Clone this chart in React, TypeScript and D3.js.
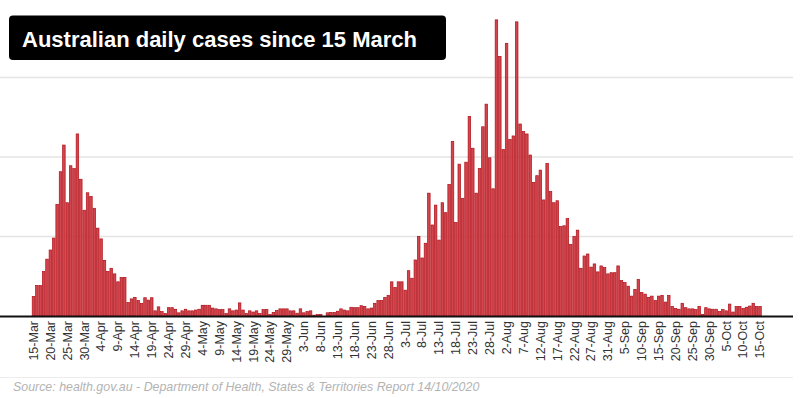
import { useEffect, useRef } from 'react'
import * as d3 from 'd3'

// Daily new cases, one value per bar, starting 15 March
const cases = [
  49, 77, 77, 112, 143, 166, 196, 281, 363, 430,
  285, 378, 371, 458, 344, 266, 310, 301, 271, 221,
  194, 140, 112, 120, 106, 86, 97, 97, 34, 43,
  47, 39, 32, 46, 40, 46, 13, 23, 11, 6,
  21, 21, 17, 8, 13, 17, 13, 13, 15, 17,
  27, 27, 27, 20, 18, 16, 16, 6, 18, 13,
  15, 33, 15, 6, 13, 10, 13, 6, 16, 16,
  4, 9, 14, 18, 18, 18, 13, 13, 7, 18,
  8, 11, 13, 2, 4, 4, 0, 8, 9, 9,
  12, 18, 15, 13, 22, 21, 21, 26, 24, 18,
  20, 32, 39, 39, 47, 52, 86, 72, 86, 86,
  65, 114, 95, 141, 200, 146, 183, 309, 229, 279,
  191, 285, 260, 331, 439, 235, 382, 296, 387, 502,
  422, 309, 371, 476, 533, 398, 320, 745, 653, 419,
  686, 444, 453, 740, 483, 464, 458, 405, 336, 353,
  367, 292, 384, 313, 285, 290, 225, 227, 245, 180,
  200, 216, 120, 151, 156, 123, 131, 111, 126, 122,
  106, 109, 109, 126, 89, 84, 75, 50, 67, 92,
  59, 55, 47, 50, 39, 50, 52, 35, 52, 24,
  19, 17, 32, 21, 18, 18, 16, 24, 4, 21,
  18, 17, 17, 11, 16, 13, 30, 10, 24, 24,
  19, 22, 25, 32, 24, 24,
]

// Labels shown on every fifth bar
const tickLabels = [
  '15-Mar', '20-Mar', '25-Mar', '30-Mar', '4-Apr', '9-Apr', '14-Apr', '19-Apr',
  '24-Apr', '29-Apr', '4-May', '9-May', '14-May', '19-May', '24-May', '29-May',
  '3-Jun', '8-Jun', '13-Jun', '18-Jun', '23-Jun', '28-Jun', '3-Jul', '8-Jul',
  '13-Jul', '18-Jul', '23-Jul', '28-Jul', '2-Aug', '7-Aug', '12-Aug', '17-Aug',
  '22-Aug', '27-Aug', '31-Aug', '5-Sep', '10-Sep', '15-Sep', '20-Sep', '25-Sep',
  '30-Sep', '5-Oct', '10-Oct', '15-Oct',
]

const gridValues = [200, 400, 600]

const width = 800
const height = 398
const baseline = 316
const font = "Arial, 'Liberation Sans', sans-serif"

const App = () => {
  const svgRef = useRef<SVGSVGElement | null>(null)

  useEffect(() => {
    const days = cases.map((_, i) => i)

    const xScale = d3
      .scaleBand<number>()
      .domain(days)
      .range([31.8, 761.7])
      .paddingInner(0.25)
      .paddingOuter(0.125)
    const yScale = d3.scaleLinear().domain([0, 800]).range([baseline, -2])

    const svg = d3.select(svgRef.current)
    svg.selectAll('*').remove()

    svg.append('rect').attr('width', width).attr('height', height).attr('fill', '#fff')

    // Horizontal gridlines
    svg
      .selectAll('.grid')
      .data(gridValues)
      .enter()
      .append('line')
      .attr('x1', 0)
      .attr('x2', 793)
      .attr('y1', (d) => yScale(d))
      .attr('y2', (d) => yScale(d))
      .attr('stroke', '#e4e4e4')
      .attr('stroke-width', 1.5)

    // Bars
    svg
      .selectAll('.bar')
      .data(cases)
      .enter()
      .append('rect')
      .attr('x', (_, i) => xScale(i) as number)
      .attr('y', (d) => yScale(d))
      .attr('width', xScale.bandwidth())
      .attr('height', (d) => baseline - yScale(d))
      .attr('fill', '#d2454c')
      .attr('stroke', '#b01019')
      .attr('stroke-width', 0.7)

    // Baseline
    svg
      .append('line')
      .attr('x1', 0)
      .attr('x2', 793)
      .attr('y1', baseline + 0.5)
      .attr('y2', baseline + 0.5)
      .attr('stroke', '#111')
      .attr('stroke-width', 2)

    // X axis labels, rotated
    const xAxis = d3
      .axisBottom(xScale)
      .tickValues(tickLabels.map((_, i) => i * 5))
      .tickFormat((d) => tickLabels[(d as number) / 5])
      .tickSize(0)
    const xAxisGroup = svg
      .append('g')
      .attr('transform', `translate(0, ${baseline + 5})`)
      .call(xAxis)
    xAxisGroup.select('.domain').remove()
    xAxisGroup
      .selectAll('text')
      .attr('transform', 'rotate(-90)')
      .attr('text-anchor', 'end')
      .attr('x', 0)
      .attr('y', 0)
      .attr('dy', '0.35em')
      .attr('fill', '#333')
      .style('font-family', font)
      .style('font-size', '12.5px')

    // Separator above the source note
    svg
      .append('line')
      .attr('x1', 0)
      .attr('x2', 793)
      .attr('y1', 377.5)
      .attr('y2', 377.5)
      .attr('stroke', '#ececec')
      .attr('stroke-width', 1)

    // Source note
    svg
      .append('text')
      .attr('x', 13)
      .attr('y', 391)
      .style('font-family', font)
      .style('font-size', '12.4px')
      .style('font-style', 'italic')
      .attr('fill', '#b3b3b3')
      .text('Source: health.gov.au - Department of Health, States & Territories Report 14/10/2020')

    // Title box
    svg
      .append('rect')
      .attr('x', 9)
      .attr('y', 15.5)
      .attr('width', 437)
      .attr('height', 44.5)
      .attr('rx', 4)
      .attr('fill', '#000')
    svg
      .append('text')
      .attr('x', 22)
      .attr('y', 47)
      .style('font-family', font)
      .style('font-size', '22px')
      .style('font-weight', 'bold')
      .attr('fill', '#fff')
      .text('Australian daily cases since 15 March')
  }, [])

  return (
    <svg
      ref={svgRef}
      width={width}
      height={height}
      style={{ position: 'fixed', top: 0, left: 0, display: 'block' }}
    />
  )
}

export default App
